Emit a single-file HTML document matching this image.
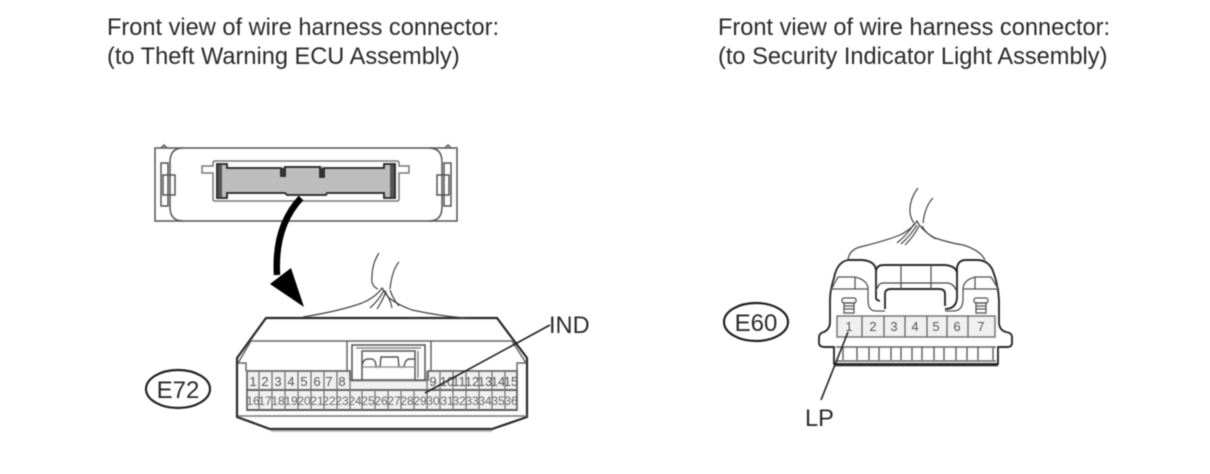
<!DOCTYPE html>
<html>
<head>
<meta charset="utf-8">
<style>
html,body{margin:0;padding:0;background:#fff}
svg{display:block;filter:blur(.5px)}
text{font-family:"Liberation Sans",sans-serif}
</style>
</head>
<body>
<svg width="1210" height="474" viewBox="0 0 1210 474" xmlns="http://www.w3.org/2000/svg">
<rect width="1210" height="474" fill="#fff"/>

<g font-size="23.6" fill="#2a2a2a">
<text x="107" y="35">Front view of wire harness connector:</text>
<text x="107" y="64">(to Theft Warning ECU Assembly)</text>
<text x="718" y="35">Front view of wire harness connector:</text>
<text x="718" y="64">(to Security Indicator Light Assembly)</text>
</g>

<!-- top connector -->
<g fill="none" stroke="#555" stroke-width="1.5">
<rect x="155" y="148" width="302" height="73"/>
<path d="M183 148Q170 148 170 162V207Q170 221 183 221M429 148Q442 148 442 162V207Q442 221 429 221"/>
<rect x="161" y="163" width="7" height="43"/><rect x="163" y="175" width="12" height="20"/>
<rect x="444" y="163" width="7" height="43"/><rect x="437" y="175" width="12" height="20"/>
<path d="M161 148l3-3 3 3M445 148l3-3 3 3"/>
<path d="M213 163Q213 161 215 161H397Q399 161 399 163V166H409V173H399V199Q399 201 397 201H215Q213 201 213 199V173H202V166H213Z" stroke="#777" fill="#fff"/>
</g>
<path d="M217 164H227V168H283V166H323V168H384V164H395V198H384V193H327L326 195H287L285 193H227V198H217Z" fill="#bdbdbd"/>
<path d="M217 164H227V168H281V176H285V167H320V177H324V168H384V164H395V198H384V193H327L326 195H287L285 193H227V198H217Z" fill="none" stroke="#222" stroke-width="1.8"/>
<path d="M218 165h4v32h-4zM390 165h4v32h-4z" fill="#555"/>
<path d="M281 168h4v9h-4zM320 168h4v9h-4z" fill="#333"/>

<!-- curved arrow -->
<path d="M301 198C285 215 275 240 277 275" fill="none" stroke="#000" stroke-width="6.5"/>
<path d="M270 284L291 268L304 307Z" fill="#000"/>

<!-- E72 body -->
<g fill="none" stroke="#2a2a2a" stroke-width="2.2">
<path d="M237 358L266 318H497L527 358V417L492 429H270L237 417Z"/>
</g>
<g fill="none" stroke="#666" stroke-width="1.5">
<path d="M238 363L251 341H512L526 363"/>
<path d="M347 341V371M431 341V371"/>
<path d="M238 363H246V371M526 363H517V371"/>
</g>
<path d="M247 371H350V380H428V371H517V410H247Z" fill="#f0f0f0" stroke="#666" stroke-width="1.8"/>
<g fill="none" stroke="#555" stroke-width="1.5">
<path d="M352 345H425V380H415V351H362V380H352Z" fill="#fff"/>
<path d="M356 348H421M418 351V378" stroke="#888"/>
<path d="M362 366Q363 359 368 359H372Q376 360 376 367H380L381 357H398L399 367H404Q405 359 410 359H415" stroke-width="1.4"/>
<path d="M363 367H415" stroke="#999"/>
</g>
<path d="M247 390H517M247 410H517" stroke="#555" stroke-width="1.8" fill="none"/>
<path d="M259 371V410M272 371V410M285 371V410M298 371V410M311 371V410M324 371V410M337 371V410M350 380V410M362 390V410M375 390V410M388 390V410M401 390V410M414 390V410M427 371V410M440 371V410M453 371V410M466 371V410M479 371V410M492 371V410M505 371V410" stroke="#777" stroke-width="1.3" fill="none"/>
<path d="M350 381H428" stroke="#888" stroke-width="1"/>
<path d="M238 416H527" stroke="#777" stroke-width="1.4"/>
<path d="M271 431H492" stroke="#bbb" stroke-width="2"/>
<g font-size="13" fill="#555" text-anchor="middle">
<text x="253" y="386">1</text><text x="265" y="386">2</text><text x="278" y="386">3</text><text x="291" y="386">4</text><text x="304" y="386">5</text><text x="317" y="386">6</text><text x="329" y="386">7</text><text x="342" y="386">8</text>
<text x="433" y="386">9</text><text x="447" y="386">10</text><text x="459" y="386">11</text><text x="472" y="386">12</text><text x="485" y="386">13</text><text x="498" y="386">14</text><text x="511" y="386">15</text>
</g>
<g font-size="12" fill="#666" text-anchor="middle">
<text x="253" y="405">16</text><text x="265" y="405">17</text><text x="278" y="405">18</text><text x="291" y="405">19</text><text x="304" y="405">20</text><text x="317" y="405">21</text><text x="329" y="405">22</text><text x="342" y="405">23</text><text x="355" y="405">24</text><text x="368" y="405">25</text><text x="381" y="405">26</text><text x="394" y="405">27</text><text x="407" y="405">28</text><text x="420" y="405">29</text><text x="433" y="405">30</text><text x="447" y="405">31</text><text x="459" y="405">32</text><text x="472" y="405">33</text><text x="485" y="405">34</text><text x="498" y="405">35</text><text x="511" y="405">36</text>
</g>

<!-- wires E72 -->
<g fill="none" stroke="#444" stroke-width="1.2">
<path d="M379 253Q371 265 372 282Q373 287 378 289M399 262Q392 270 390 289"/>
<path d="M303 317Q340 311 362 303Q376 297 382 288Q385 293 388 297Q396 304 412 310Q440 316 465 318"/>
<path d="M370 308Q379 300 384 290M377 309Q383 300 386 291M390 290Q393 299 399 306M382 288Q390 297 392 308"/>
</g>

<!-- IND -->
<path d="M425 393L550 325" stroke="#222" stroke-width="1.6"/>
<text x="549" y="333" font-size="23.6" fill="#2a2a2a">IND</text>

<!-- E72 ellipse -->
<ellipse cx="178" cy="389" rx="32" ry="19" fill="#fff" stroke="#222" stroke-width="2.2"/>
<text x="178" y="398" font-size="24" fill="#2a2a2a" text-anchor="middle">E72</text>

<!-- E60 connector -->
<g fill="none" stroke="#2a2a2a" stroke-width="1.9" stroke-linejoin="round">
<path d="M885 309V294Q885 289 891 289H939Q945 289 945 294V306"/>
<path d="M848 260Q837 262 834 278Q830 290 830 300V322Q830 329 824 332Q819 333 819 338V343Q819 347 825 347H834V364H998V347H1007Q1012 347 1012 343V337Q1012 333 1006 332Q999 330 999 322V300Q998 285 994 274Q990 260 977 260H966Q958 260 957 268V298Q956 309 945 309M848 260H862Q875 261 876 270V298Q876 300 880 301"/>
<path d="M876 272Q876 265 884 265H945Q956 266 957 273" stroke-width="1.9"/>
<path d="M876 290L879 285Q880 283 884 283H948Q954 284 956 290" stroke-width="1.3" stroke="#444"/>
<path d="M835 365H998" stroke-width="2.4"/>
</g>
<g fill="none" stroke="#555" stroke-width="1.3">
<path d="M831 290L838 277H855Q867 280 868 288V300Q868 311 876 311H885"/>
<path d="M999 290L991 277H975Q964 280 963 288V299Q963 311 953 311H945"/>
<path d="M855 277V289M901 265V289M931 265V289M975 277V289"/>
<path d="M831 289H868M963 289H998"/>
<rect x="842" y="298" width="14" height="5" rx="2"/><rect x="844" y="303" width="10" height="10"/><path d="M844 306h10M844 309h10"/>
<rect x="974" y="298" width="14" height="5" rx="2"/><rect x="976" y="303" width="10" height="10"/><path d="M976 306h10M976 309h10"/>
</g>
<rect x="837" y="316" width="158" height="21" fill="#f0f0f0" stroke="#777" stroke-width="1.5"/>
<path d="M862 316V337M884 316V337M905 316V337M927 316V337M947 316V337M968 316V337" stroke="#666" stroke-width="1.3"/>
<g font-size="13" fill="#555" text-anchor="middle">
<text x="849" y="331">1</text><text x="873" y="331">2</text><text x="894" y="331">3</text><text x="915" y="331">4</text><text x="936" y="331">5</text><text x="957" y="331">6</text><text x="981" y="331">7</text>
</g>
<g fill="none" stroke="#666" stroke-width="1.5">
<path d="M836 347H996M836 361H996"/>
<path d="M843 347V360M857 347V360M869 347V360M879 347V360M891 347V360M901 347V360M912 347V360M922 347V360M934 347V360M944 347V360M956 347V360M967 347V360M978 347V360M993 347V360"/>
</g>

<!-- wires E60 -->
<g fill="none" stroke="#444" stroke-width="1.2">
<path d="M918 188Q909 200 910 213Q911 219 914 223M933 198Q925 206 923 223"/>
<path d="M848 260Q849 250 860 247Q885 241 900 235Q912 229 917 221Q922 231 935 238Q950 243 963 245Q980 250 985 260"/>
<path d="M897 243Q908 234 914 224M901 244Q911 235 917 225M905 245Q914 236 919 226M922 226Q926 234 936 239"/>
</g>

<!-- LP -->
<path d="M848 332L821 400" stroke="#222" stroke-width="1.6"/>
<text x="805" y="426" font-size="23.6" fill="#2a2a2a">LP</text>

<!-- E60 ellipse -->
<ellipse cx="756" cy="322" rx="32" ry="19" fill="#fff" stroke="#222" stroke-width="2.2"/>
<text x="756" y="331" font-size="24" fill="#2a2a2a" text-anchor="middle">E60</text>
</svg>
</body>
</html>
